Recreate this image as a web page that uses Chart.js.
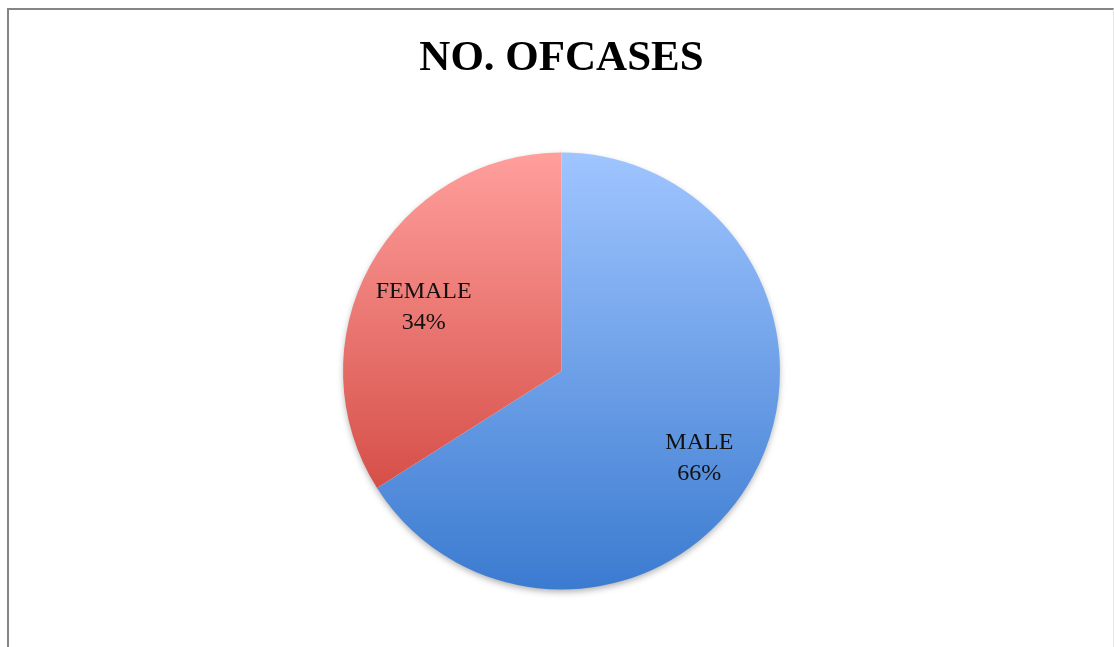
<!DOCTYPE html>
<html>
<head>
<meta charset="utf-8">
<title>No. of cases</title>
<script src="https://cdn.jsdelivr.net/npm/chart.js@4.4.1/dist/chart.umd.min.js"></script>
<style>
    html, body { margin: 0; padding: 0; background: #fff; overflow: hidden; }
    #frame {
        position: absolute;
        left: 7px; top: 8px;
        width: 1104px; height: 650px;
        border-left: 2px solid #858585;
        border-top: 2px solid #858585;
        border-right: 1px solid #e6e6e6;
    }
    #wrap { position: absolute; left: 0; top: 0; width: 1114px; height: 647px; }
</style>
</head>
<body>
<div id="frame"></div>
<div id="wrap"><canvas id="pieChart"></canvas></div>
<script>
    'use strict'

    const categories = ['MALE', 'FEMALE'];
    const cases = [66, 34];
    const percentLabels = ['66%', '34%'];

    // top / bottom colours of each slice's vertical gradient
    const topColors = ['#a0c5ff', '#ff9f9c'];
    const bottomColors = ['#3b7bd0', '#c9372f'];

    // soft shadow under the pie, drawn before the slices
    var pieShadow = {
        id: 'pieShadow',
        beforeDatasetsDraw: function (chart) {
            var arc = chart.getDatasetMeta(0).data[0];
            if (!arc) return;
            var ctx = chart.ctx;
            ctx.save();
            ctx.shadowColor = 'rgba(0, 0, 0, 0.35)';
            ctx.shadowBlur = 7;
            ctx.shadowOffsetY = 3;
            ctx.fillStyle = '#ffffff';
            ctx.beginPath();
            ctx.arc(arc.x, arc.y, arc.outerRadius - 1, 0, Math.PI * 2);
            ctx.fill();
            ctx.restore();
        }
    };

    // category name and percentage inside each slice
    var sliceLabels = {
        id: 'sliceLabels',
        afterDatasetsDraw: function (chart) {
            var ctx = chart.ctx;
            ctx.save();
            ctx.font = '24px "Liberation Serif", serif';
            ctx.fillStyle = '#111';
            ctx.textAlign = 'center';
            ctx.textBaseline = 'middle';
            chart.getDatasetMeta(0).data.forEach(function (arc, i) {
                var mid = (arc.startAngle + arc.endAngle) / 2;
                var r = arc.outerRadius * 0.72;
                var x = arc.x + Math.cos(mid) * r;
                var y = arc.y + Math.sin(mid) * r + 11;
                ctx.fillText(categories[i], x, y - 15);
                ctx.fillText(percentLabels[i], x, y + 16);
            });
            ctx.restore();
        }
    };

    const ctx = document.getElementById('pieChart');
    const myChart = new Chart(ctx, {
        type: 'pie',
        data: {
            labels: categories,
            datasets: [{
                label: 'No. of cases',
                data: cases,
                backgroundColor: function (c) {
                    var area = c.chart.chartArea;
                    if (!area) return topColors[c.dataIndex];
                    var g = c.chart.ctx.createLinearGradient(0, area.top, 0, area.bottom);
                    g.addColorStop(0, topColors[c.dataIndex]);
                    g.addColorStop(1, bottomColors[c.dataIndex]);
                    return g;
                },
                borderWidth: 0,
                hoverOffset: 0
            }]
        },
        plugins: [pieShadow, sliceLabels],
        options: {
            responsive: true,
            maintainAspectRatio: false,
            animation: false,
            layout: {
                padding: { top: 0, bottom: 57.5, left: 9, right: 0 }
            },
            plugins: {
                legend: { display: false },
                tooltip: { enabled: false },
                title: {
                    display: true,
                    text: 'NO. OFCASES',
                    color: '#000',
                    font: { family: '"Liberation Serif", serif', size: 43, weight: 'bold', lineHeight: 1.2 },
                    padding: { top: 33, bottom: 68 }
                }
            }
        }
    });
</script>
</body>
</html>
